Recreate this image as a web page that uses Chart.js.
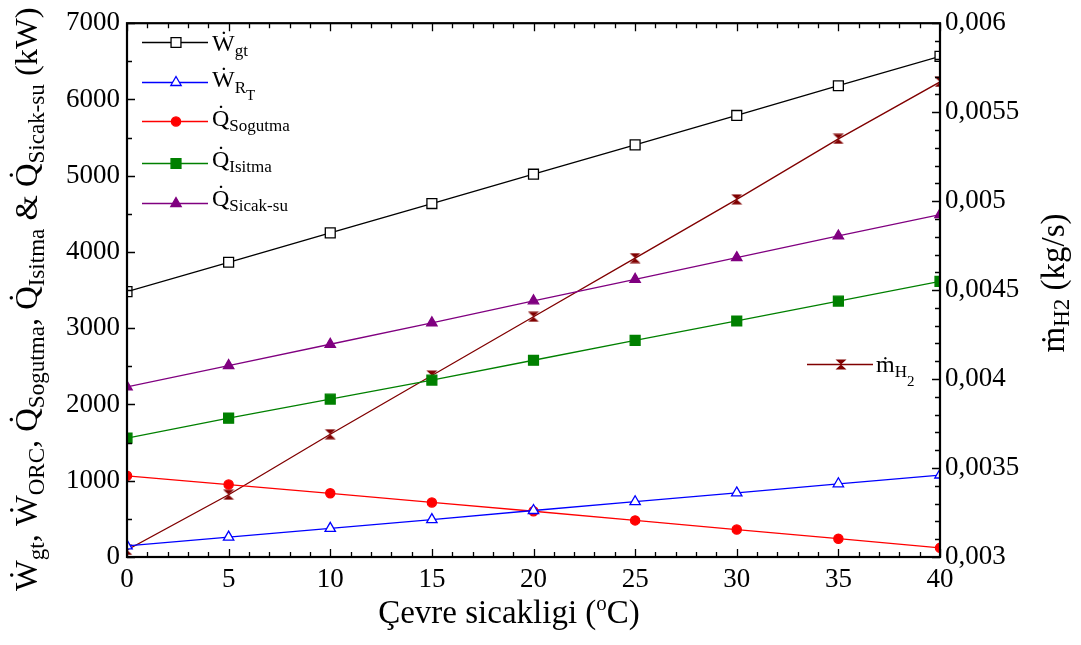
<!DOCTYPE html>
<html>
<head>
<meta charset="utf-8">
<title>Çevre sicakligi</title>
<script src="https://cdn.jsdelivr.net/npm/chart.js@4.4.1/dist/chart.umd.min.js"></script>
<style>
  html, body { margin: 0; padding: 0; background: #fff; }
  canvas { display: block; }
</style>
</head>
<body>
<canvas id="chart" width="1081" height="645"></canvas>
<script>
// ambient temperature (°C)
var temps = [0, 5, 10, 15, 20, 25, 30, 35, 40];

// power / heat rates (kW), left axis
var wGt       = [3480, 3865, 4250, 4635, 5020, 5405, 5790, 6180, 6565];
var wRt       = [145, 260, 375, 490, 610, 725, 840, 960, 1075];
var qSogutma  = [1065, 950, 835, 715, 600, 480, 360, 240, 120];
var qIsitma   = [1560, 1820, 2070, 2320, 2580, 2840, 3095, 3355, 3615];
var qSicakSu  = [2230, 2510, 2790, 3070, 3360, 3640, 3925, 4210, 4490];

// hydrogen mass flow (kg/s), right axis
var mH2 = [0.00304, 0.00335, 0.00369, 0.00402, 0.00435, 0.00468, 0.00501, 0.00535, 0.00567];

var FONT = '"Liberation Serif", "Times New Roman", serif';

// hourglass marker for the hydrogen series
function hourglass(color) {
    var c = document.createElement('canvas');
    c.width = 12; c.height = 11;
    var g = c.getContext('2d');
    g.fillStyle = color;
    g.beginPath();
    g.moveTo(0.5, 0.5); g.lineTo(11.5, 0.5); g.lineTo(6, 5.5);
    g.lineTo(11.5, 10.5); g.lineTo(0.5, 10.5); g.lineTo(6, 5.5);
    g.closePath();
    g.fill();
    return c;
}
var hgMarker = hourglass('#800000');

function xy(values) {
    return temps.map(function (t, i) { return { x: t, y: values[i] }; });
}

function series(label, values, color, style, radius, fill, axis) {
    return {
        label: label,
        data: xy(values),
        yAxisID: axis || 'y',
        borderColor: color,
        backgroundColor: color,
        borderWidth: 1.3,
        pointStyle: style,
        pointRadius: radius,
        pointHoverRadius: radius,
        pointBackgroundColor: fill,
        pointBorderColor: color,
        pointBorderWidth: 1.3,
        tension: 0
    };
}

var datasets = [
    series('Wgt', wGt, '#000000', 'rect', 7, '#ffffff'),
    series('WRT', wRt, '#0000ff', 'triangle', 6, '#ffffff'),
    series('QSogutma', qSogutma, '#ff0000', 'circle', 4.6, '#ff0000'),
    series('QIsitma', qIsitma, '#008000', 'rect', 7, '#008000'),
    series('QSicak-su', qSicakSu, '#800080', 'triangle', 6, '#800080'),
    series('mH2', mH2, '#800000', hgMarker, 6, '#800000', 'y1')
];

// legend rows: text parts are [text, size, baseline shift]
var legendRows = [
    { ds: 0, x: 142, y: 42, tx: 212, ty: 51, parts: [['\u1E86', 24, 0], ['gt', 17, 5]] },
    { ds: 1, x: 142, y: 82, tx: 212, ty: 87, parts: [['\u1E86', 24, 0], ['R', 17, 6], ['T', 15, 13]] },
    { ds: 2, x: 142, y: 121, tx: 212, ty: 126, parts: [['Q\u0307', 24, 0], ['Sogutma', 17, 5]] },
    { ds: 3, x: 142, y: 163, tx: 212, ty: 167, parts: [['Q\u0307', 24, 0], ['Isitma', 17, 5]] },
    { ds: 4, x: 142, y: 203, tx: 212, ty: 206, parts: [['Q\u0307', 24, 0], ['Sicak-su', 17, 5]] },
    { ds: 5, x: 807, y: 364, tx: 876, ty: 372, parts: [['\u1E41', 24, 0], ['H', 17, 5], ['2', 15, 14]] }
];

var leftTitle = [
    ['\u1E86', 31, 0], ['gt', 22, 7], [', ', 31, 0],
    ['\u1E86', 31, 0], ['ORC', 22, 7], [', ', 31, 0],
    ['Q\u0307', 31, 0], ['Sogutma', 22, 7], [', ', 31, 0],
    ['Q\u0307', 31, 0], ['Isitma', 22, 7], [' & ', 31, 0],
    ['Q\u0307', 31, 0], ['Sicak-su', 22, 7], [' (kW)', 31, 0]
];
var rightTitle = [['\u1E41', 33, 0], ['H2', 23, 5], [' (kg/s)', 33, 0]];
var bottomTitle = [['\u00C7evre sicakligi (', 33, 0], ['o', 21, -13], ['C)', 33, 0]];

function richWidth(ctx, parts, k) {
    var w = 0;
    parts.forEach(function (p) {
        ctx.font = (p[1] * k) + 'px ' + FONT;
        w += ctx.measureText(p[0]).width;
    });
    return w;
}

function drawRich(ctx, parts, x, y, k) {
    k = k || 1;
    ctx.textAlign = 'left';
    ctx.textBaseline = 'alphabetic';
    parts.forEach(function (p) {
        ctx.font = (p[1] * k) + 'px ' + FONT;
        ctx.fillText(p[0], x, y + p[2] * k);
        x += ctx.measureText(p[0]).width;
    });
}

// inward tick marks on all four sides plus the frame
var framePlugin = {
    id: 'frame',
    afterDatasetsDraw: function (chart) {
        var ctx = chart.ctx, a = chart.chartArea;
        var sx = chart.scales.x, sy = chart.scales.y, sy1 = chart.scales.y1;
        ctx.save();
        ctx.strokeStyle = '#000';
        ctx.lineWidth = 1.3;
        ctx.beginPath();
        var v, p, len;
        for (v = 0; v <= 40; v += 1) {
            p = Math.round(sx.getPixelForValue(v)) + 0.5;
            len = v % 5 === 0 ? 8 : 5;
            ctx.moveTo(p, a.bottom); ctx.lineTo(p, a.bottom - len);
            ctx.moveTo(p, a.top); ctx.lineTo(p, a.top + len);
        }
        for (v = 0; v <= 7000; v += 500) {
            p = Math.round(sy.getPixelForValue(v)) + 0.5;
            len = v % 1000 === 0 ? 8 : 5;
            ctx.moveTo(a.left, p); ctx.lineTo(a.left + len, p);
        }
        for (v = 30; v <= 60; v += 1) {
            p = Math.round(sy1.getPixelForValue(v / 10000)) + 0.5;
            len = v % 5 === 0 ? 8 : 5;
            ctx.moveTo(a.right, p); ctx.lineTo(a.right - len, p);
        }
        ctx.stroke();
        ctx.lineWidth = 2.2;
        ctx.strokeRect(a.left, a.top, a.right - a.left, a.bottom - a.top);
        ctx.restore();
    },
    afterDraw: function (chart) {
        var ctx = chart.ctx, a = chart.chartArea;
        ctx.save();
        ctx.fillStyle = '#000';

        // legend entries
        legendRows.forEach(function (row) {
            var ds = chart.data.datasets[row.ds];
            ctx.strokeStyle = ds.borderColor;
            ctx.lineWidth = 1.3;
            ctx.beginPath();
            ctx.moveTo(row.x, row.y + 0.5);
            ctx.lineTo(row.x + 66, row.y + 0.5);
            ctx.stroke();
            ctx.fillStyle = ds.pointBackgroundColor;
            Chart.helpers.drawPoint(ctx, {
                pointStyle: ds.pointStyle, radius: ds.pointRadius,
                rotation: 0, borderWidth: ds.pointBorderWidth
            }, row.x + 34, row.y + 0.5);
            ctx.fillStyle = '#000';
            drawRich(ctx, row.parts, row.tx, row.ty);
        });

        // axis titles
        var len = richWidth(ctx, leftTitle, 1);
        var k = 584 / len;
        ctx.save();
        ctx.translate(37, 299 + len * k / 2);
        ctx.rotate(-Math.PI / 2);
        drawRich(ctx, leftTitle, 0, 0, k);
        ctx.restore();

        len = richWidth(ctx, rightTitle, 1);
        ctx.save();
        ctx.translate(1064, 283 + len / 2);
        ctx.rotate(-Math.PI / 2);
        drawRich(ctx, rightTitle, 0, 0);
        ctx.restore();

        len = richWidth(ctx, bottomTitle, 1);
        drawRich(ctx, bottomTitle, 509 - len / 2, 623);
        ctx.restore();
    }
};

var tickFont = { family: FONT, size: 27 };

new Chart(document.getElementById('chart'), {
    type: 'line',
    data: { datasets: datasets },
    options: {
        responsive: false,
        animation: false,
        devicePixelRatio: 1,
        layout: { padding: { top: 15 } },
        plugins: { legend: { display: false }, tooltip: { enabled: false } },
        scales: {
            x: {
                type: 'linear', min: 0, max: 40,
                grid: { display: false, drawTicks: false },
                border: { display: false },
                ticks: { stepSize: 5, font: tickFont, color: '#000', padding: 7, maxRotation: 0 },
                afterFit: function (s) { s.height = 88; }
            },
            y: {
                position: 'left', min: 0, max: 7000,
                grid: { display: false, drawTicks: false },
                border: { display: false },
                ticks: {
                    stepSize: 1000, font: tickFont, color: '#000', padding: 7,
                    callback: function (v) { return String(v); }
                },
                afterFit: function (s) { s.width = 127; }
            },
            y1: {
                position: 'right', min: 0.003, max: 0.006,
                grid: { display: false, drawTicks: false },
                border: { display: false },
                ticks: {
                    stepSize: 0.0005, font: tickFont, color: '#000', padding: 5,
                    callback: function (v) { return String(Number(v.toFixed(4))).replace('.', ','); }
                },
                afterFit: function (s) { s.width = 141; }
            }
        }
    },
    plugins: [framePlugin]
});
</script>
</body>
</html>
